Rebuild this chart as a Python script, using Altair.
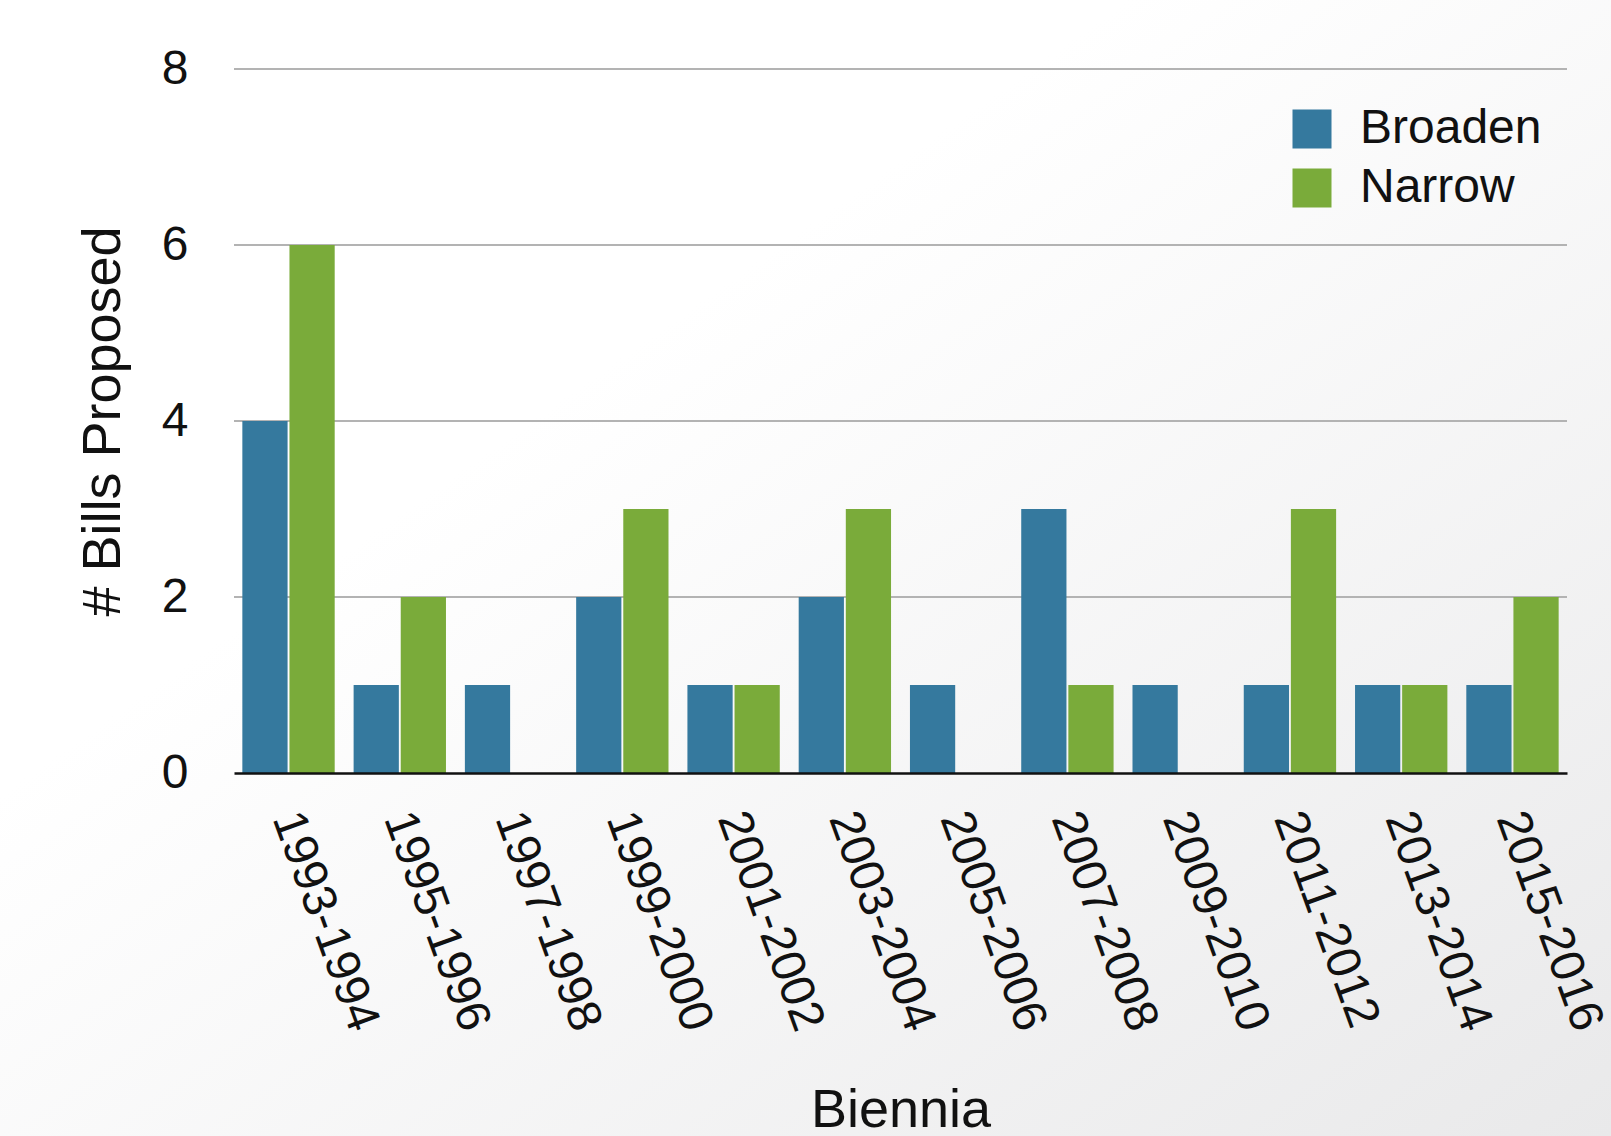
import altair as alt
import pandas as pd

biennia = ["1993-1994", "1995-1996", "1997-1998", "1999-2000", "2001-2002", "2003-2004",
           "2005-2006", "2007-2008", "2009-2010", "2011-2012", "2013-2014", "2015-2016"]
broaden = [4, 1, 1, 2, 1, 2, 1, 3, 1, 1, 1, 1]
narrow = [6, 2, 0, 3, 1, 3, 0, 1, 0, 3, 1, 2]
series = ["Broaden", "Narrow"]
colors = ["#35799e", "#7aab3a"]
grid_values = [2, 4, 6, 8]
y_ticks = [0, 2, 4, 6, 8]

rows = []
for b, vb, vn in zip(biennia, broaden, narrow):
    rows.append({"Biennium": b, "Type": "Broaden", "Count": vb})
    rows.append({"Biennium": b, "Type": "Narrow", "Count": vn})
df = pd.DataFrame(rows)

FONT = "Liberation Sans"
W, H = 1333, 704
PL, PT, PR, PB = 234, 69, 44, 363

y_axis = alt.Axis(title="# Bills Proposed", values=y_ticks, grid=False,
                  domain=False, ticks=False, labelPadding=46, zindex=2,
                  labelFontSize=48, labelFont=FONT, labelColor="#111111",
                  titleFont=FONT, titleFontSize=54, titleFontWeight="normal",
                  titleColor="#111111", titleAngle=270, titleX=-131,
                  titleY=352, titleBaseline="middle", titleAlign="center")
y_scale = alt.Scale(domain=[0, 8])

bg = alt.Chart(alt.Data(values=[{}])).mark_rect(
    fill=alt.LinearGradient(
        gradient="linear",
        stops=[alt.GradientStop(color="#ffffff", offset=0.35),
               alt.GradientStop(color="#e9e9ea", offset=1.0)],
        x1=0, y1=0, x2=1, y2=1,
    )
).encode(
    x=alt.value(-PL), x2=alt.value(W + PR), y=alt.value(-PT), y2=alt.value(H + PB)
)

grid = alt.Chart(pd.DataFrame({"Count": grid_values})).mark_rule(
    color="#b3b3b3", strokeWidth=2
).encode(
    y=alt.Y("Count:Q", scale=y_scale, axis=y_axis)
)

bars = alt.Chart(df).mark_bar().encode(
    x=alt.X("Biennium:N", sort=biennia,
            scale=alt.Scale(paddingInner=0.17, paddingOuter=0.075),
            axis=alt.Axis(title="Biennia", labelAngle=70, labelAlign="left",
                          labelBaseline="middle", labelFontSize=48, labelFont=FONT,
                          labelColor="#111111", labelPadding=40, ticks=False,
                          labelLimit=0, labelOffset=-3,
                          domainColor="#111111", domainWidth=2.5, zindex=2,
                          titleFont=FONT, titleFontSize=54, titleFontWeight="normal",
                          titleColor="#111111", titleY=337, titleBaseline="middle",
                          titleAlign="center")),
    xOffset=alt.XOffset("Type:N", sort=series, scale=alt.Scale(paddingInner=0.04)),
    y=alt.Y("Count:Q", scale=y_scale, axis=y_axis),
    color=alt.Color("Type:N", scale=alt.Scale(domain=series, range=colors),
                    legend=alt.Legend(title=None, orient="none", legendX=1054,
                                      legendY=36, symbolType="square",
                                      symbolSize=1521, symbolStrokeWidth=0,
                                      labelFontSize=48, labelFont=FONT, labelLimit=0,
                                      labelColor="#111111", labelOffset=24,
                                      rowPadding=11, padding=0)),
)

chart = alt.layer(bg, grid, bars).properties(
    width=W, height=H,
    padding={"left": PL, "top": PT, "right": PR, "bottom": PB},
    autosize=alt.AutoSizeParams(type="none"),
    background="#ffffff",
).configure_view(stroke=None)

chart.save("out.html", embed_options={"renderer": "svg", "actions": False})
